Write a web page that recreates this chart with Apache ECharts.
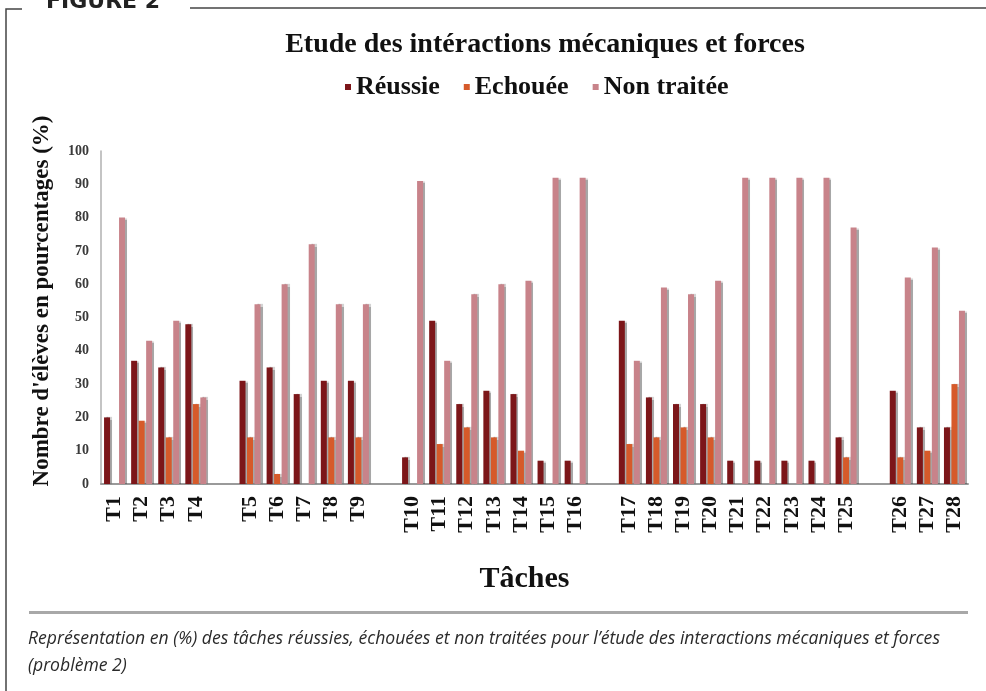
<!DOCTYPE html>
<html>
<head>
<meta charset="utf-8">
<script src="https://cdn.jsdelivr.net/npm/echarts@6/dist/echarts.min.js"></script>
<style>
html,body{margin:0;padding:0;background:#fff;}
#chart{width:986px;height:691px;}
</style>
</head>
<body>
<div id="chart"></div>
<script>
// ---- data ----
const tasks = ['T1','T2','T3','T4','T5','T6','T7','T8','T9','T10','T11','T12','T13','T14',
  'T15','T16','T17','T18','T19','T20','T21','T22','T23','T24','T25','T26','T27','T28'];
const groupSizes = [4, 5, 7, 9, 3];
const reussie    = [20,37,35,48,31,35,27,31,31, 8,49,24,28,27, 7, 7,49,26,24,24, 7, 7, 7, 7,14,28,17,17];
const echouee    = [ 0,19,14,24,14, 3, 0,14,14, 0,12,17,14,10, 0, 0,12,14,17,14, 0, 0, 0, 0, 8, 8,10,30];
const nonTraitee = [80,43,49,26,54,60,72,54,54,91,37,57,60,61,92,92,37,59,57,61,92,92,92,92,77,62,71,52];
const seriesNames = ['Réussie', 'Echouée', 'Non traitée'];
const yTicks = [0,10,20,30,40,50,60,70,80,90,100];

// build category axis with a blank slot between task groups
function withGaps(arr, blank) {
  const out = [];
  let i = 0;
  groupSizes.forEach((g, gi) => {
    for (let k = 0; k < g; k++) out.push(arr[i++]);
    if (gi < groupSizes.length - 1) out.push(blank);
  });
  return out;
}
const categories = withGaps(tasks, '');

const serif = '"Liberation Serif", "DejaVu Serif", serif';
const colors = ['#7c1619', '#d65a2a', '#c8838a'];

const chart = echarts.init(document.getElementById('chart'), null, {renderer: 'canvas'});

function barSeries(name, data, color) {
  return {
    name: name,
    type: 'bar',
    data: withGaps(data, null),
    barWidth: 6,
    barGap: '25%',
    itemStyle: {
      color: color,
      shadowColor: 'rgba(60,60,60,0.45)',
      shadowOffsetX: 2,
      shadowOffsetY: 0,
      shadowBlur: 1
    },
    emphasis: {disabled: true},
    animation: false
  };
}

chart.setOption({
  animation: false,
  title: {
    text: 'Etude des intéractions mécaniques et forces',
    left: 540, top: 26, textAlign: 'center',
    textStyle: {fontFamily: serif, fontWeight: 'bold', fontSize: 28, color: '#111'}
  },
  legend: {
    data: seriesNames,
    left: 340, top: 69,
    itemWidth: 6, itemHeight: 6, itemGap: 24,
    icon: 'rect',
    textStyle: {fontFamily: serif, fontWeight: 'bold', fontSize: 26, color: '#111'}
  },
  grid: {left: 101, right: 18, top: 151, bottom: 207, containLabel: false},
  xAxis: {
    type: 'category',
    data: categories,
    name: 'Tâches',
    nameLocation: 'middle',
    nameGap: 80,
    nameTextStyle: {fontFamily: serif, fontWeight: 'bold', fontSize: 30, color: '#111', padding:[0,20,0,0]},
    axisLine: {show: true, lineStyle: {color: '#9a9a9a', width: 2}},
    axisTick: {show: false},
    axisLabel: {
      interval: 0, rotate: 90, margin: 12,
      fontFamily: serif, fontWeight: 'bold', fontSize: 22, color: '#111'
    },
    splitLine: {show: false}
  },
  yAxis: {
    type: 'value',
    min: yTicks[0], max: yTicks[yTicks.length - 1], interval: 10,
    axisLine: {show: true, lineStyle: {color: '#b0b0b0', width: 1.5}},
    axisTick: {show: false},
    axisLabel: {fontFamily: serif, fontWeight: 'bold', fontSize: 14, color: '#3a3a3a', margin: 12},
    splitLine: {show: false}
  },
  series: [
    barSeries(seriesNames[0], reussie, colors[0]),
    barSeries(seriesNames[1], echouee, colors[1]),
    barSeries(seriesNames[2], nonTraitee, colors[2])
  ],
  graphic: [
    {type: 'text', x: 42, y: 301, rotation: Math.PI / 2,
     style: {text: "Nombre d'élèves en pourcentages (%)", align: 'center', verticalAlign: 'middle',
       font: 'bold 23px "Liberation Serif", serif', fill: '#111'}},
    {type: 'text', left: 46, top: -9,
     style: {text: 'FIGURE 2', font: 'bold 22px "DejaVu Sans", sans-serif', fill: '#222'}},
    {type: 'polyline', shape: {points: [[22, 9], [6, 9], [6, 691]]},
     style: {stroke: '#444', lineWidth: 1.5, fill: null}},
    {type: 'line', shape: {x1: 190, y1: 8, x2: 986, y2: 8},
     style: {stroke: '#444', lineWidth: 1.5}},
    {type: 'rect', shape: {x: 29, y: 611, width: 939, height: 3},
     style: {fill: '#a8a8a8'}},
    {type: 'text', left: 28, top: 630,
     style: {text: 'Représentation en (%) des tâches réussies, échouées et non traitées pour l’étude des interactions mécaniques et forces',
       font: 'italic 17.6px "Open Sans", Lato, sans-serif', fill: '#2a2a2a'}},
    {type: 'text', left: 28, top: 657,
     style: {text: '(problème 2)', font: 'italic 17.6px "Open Sans", Lato, sans-serif', fill: '#2a2a2a'}}
  ]
});
</script>
</body>
</html>
